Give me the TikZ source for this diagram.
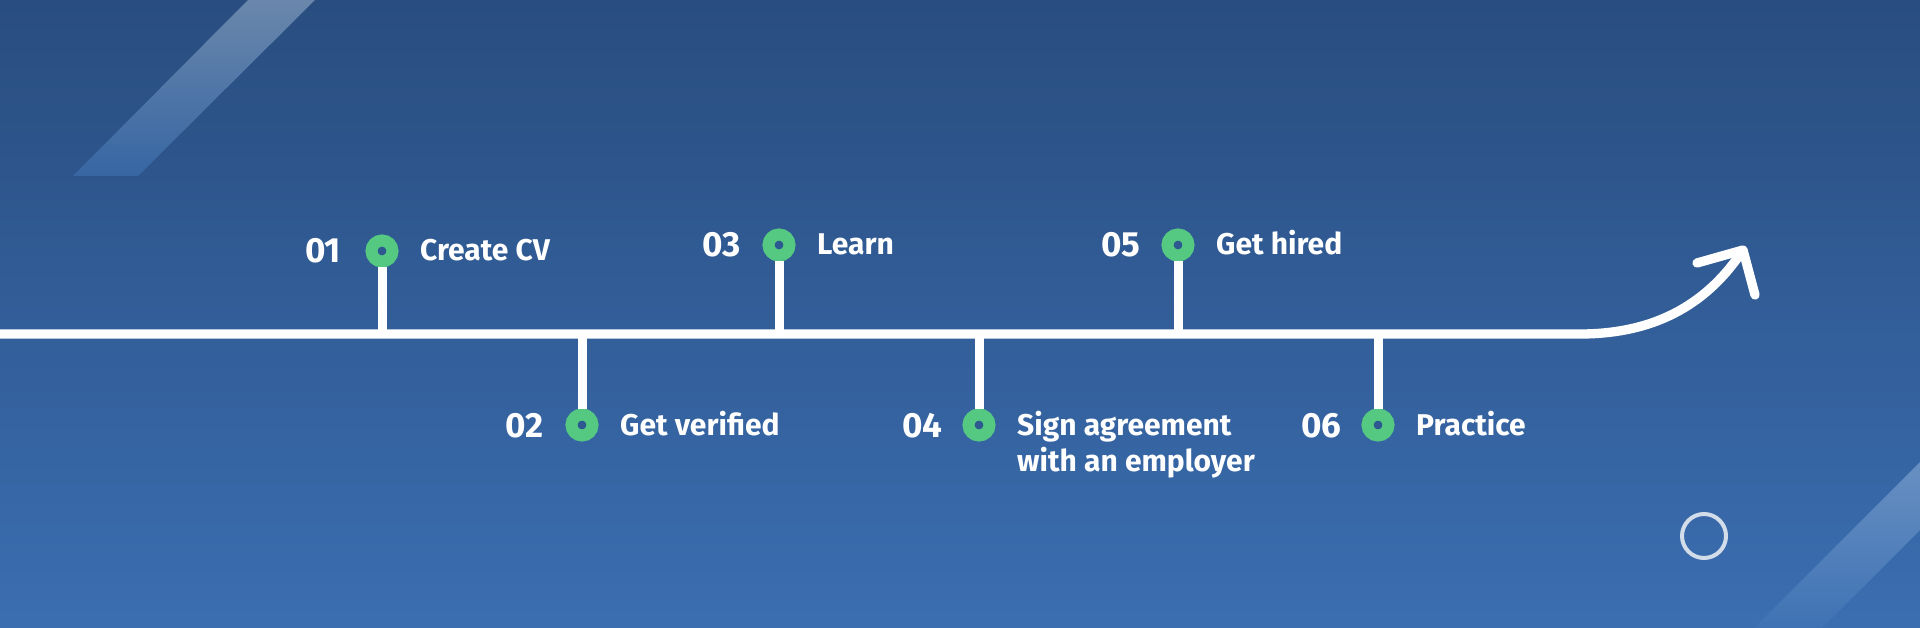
\documentclass[tikz,border=0pt]{standalone}
\usepackage{fontspec}
\setmainfont{Fira Sans}
\usetikzlibrary{calc}
\definecolor{bgtop}{HTML}{294D7F}
\definecolor{bgbot}{HTML}{3B6EB1}
\definecolor{grn}{HTML}{55C882}
\definecolor{dotin}{HTML}{2D5990}
\definecolor{ringc}{HTML}{D3DDEA}
\definecolor{stAtop}{HTML}{6A87AB}
\definecolor{stAbot}{HTML}{3766A3}
\definecolor{stBtop}{HTML}{6890C2}
\definecolor{stBbot}{HTML}{3F72B4}
\tikzset{
  dotnode/.style={circle, draw=grn, line width=12pt, fill=dotin, minimum size=21pt, inner sep=0pt},
  mainline/.style={draw=white, line width=9.3pt, line cap=round, line join=round},
  stemline/.style={draw=white, line width=9pt},
  numtxt/.style={text=white, inner sep=0pt, font=\fontsize{35}{40}\selectfont\bfseries, anchor=base west},
  labtxt/.style={text=white, inner sep=0pt, font=\fontsize{30}{36}\selectfont\bfseries, anchor=base west},
}
\begin{document}
\begin{tikzpicture}[x=1pt,y=-1pt]
\useasboundingbox (0,0) rectangle (1920,628);
\shade[top color=bgtop, bottom color=bgbot] (0,0) rectangle (1920,628);
% decorative stripes
\shade[top color=stAtop, bottom color=stAbot] (248,0) -- (315,0) -- (138,176) -- (73,176) -- cycle;
\shade[top color=stBtop, bottom color=stBbot] (1920,462) -- (1920,530) -- (1822,628) -- (1754,628) -- cycle;
% ring
\draw[ringc, line width=4pt] (1704,536) circle[radius=22];
% main line with arrow
\coordinate (L0) at (0,334);
\coordinate (L1) at (1580,334);
\coordinate (tip) at (1743,250);
\coordinate (hA) at (1697,263);
\coordinate (hB) at (1755,295);
\draw[mainline, line cap=butt] (L0) -- (L1) .. controls (1660,334) and (1710,300) .. (tip);
\draw[mainline] (hA) -- (tip) -- (hB);
% steps
\node[dotnode] (c1) at (382,251) {};
\node[dotnode] (c2) at (582,425) {};
\node[dotnode] (c3) at (779,245) {};
\node[dotnode] (c4) at (979,425) {};
\node[dotnode] (c5) at (1178,245) {};
\node[dotnode] (c6) at (1378,425) {};
\draw[stemline] (c1.south) -- (c1 |- L0);
\draw[stemline] (c3.south) -- (c3 |- L0);
\draw[stemline] (c5.south) -- (c5 |- L0);
\draw[stemline] (c2.north) -- (c2 |- L0);
\draw[stemline] (c4.north) -- (c4 |- L0);
\draw[stemline] (c6.north) -- (c6 |- L0);
\node[numtxt] (n1) at ($(c1)+(-77,12)$) {01};
\node[numtxt] (n2) at ($(c2)+(-77,12)$) {02};
\node[numtxt] (n3) at ($(c3)+(-77,12)$) {03};
\node[numtxt] (n4) at ($(c4)+(-77,12)$) {04};
\node[numtxt] (n5) at ($(c5)+(-77,12)$) {05};
\node[numtxt] (n6) at ($(c6)+(-77,12)$) {06};
\node[labtxt] (t1) at ($(c1)+(38,10)$) {Create CV};
\node[labtxt] (t2) at ($(c2)+(38,10)$) {Get verified};
\node[labtxt] (t3) at ($(c3)+(38,10)$) {Learn};
\node[labtxt] (t4) at ($(c4)+(38,10)$) {Sign agreement};
\node[labtxt] (t4b) at ($(t4.base west)+(0,36)$) {with an employer};
\node[labtxt] (t5) at ($(c5)+(38,10)$) {Get hired};
\node[labtxt] (t6) at ($(c6)+(38,10)$) {Practice};
\end{tikzpicture}
\end{document}
